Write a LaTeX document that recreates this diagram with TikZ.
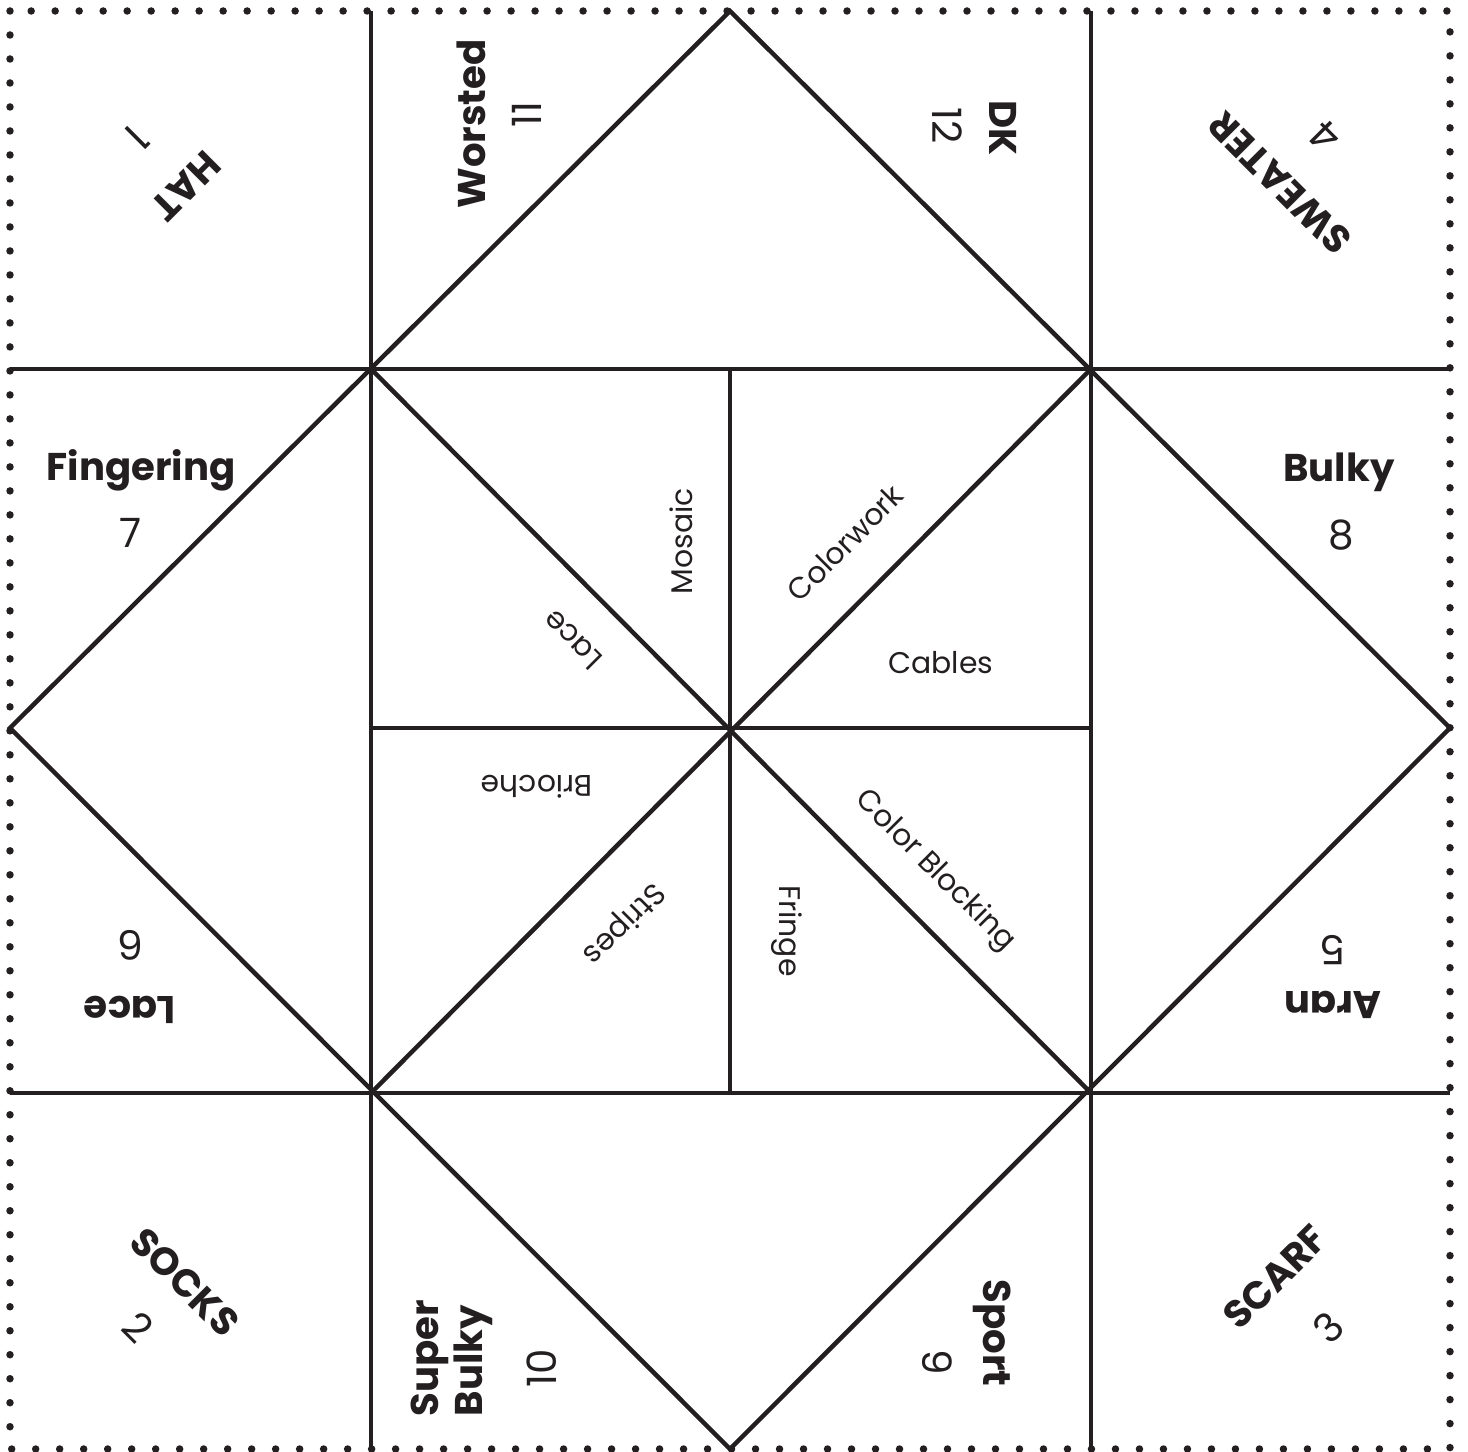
\documentclass[tikz,border=0pt]{standalone}
\usepackage{fontspec}
\setmainfont{Poppins}
\usepackage{xcolor}
\usepackage{tikz}
\usetikzlibrary{calc}
\definecolor{inkdark}{RGB}{35,31,32}
\tikzset{
  foldline/.style={line width=0.09cm, color=inkdark},
  dotborder/.style={line width=0.15cm, color=inkdark, line cap=round,
    dash pattern=on 0pt off 0.48cm},
  yarnlabel/.style={font=\fontsize{22}{25}\selectfont\bfseries, color=inkdark,
    inner sep=0pt, align=left},
  numlabel/.style={font=\fontsize{23}{26}\selectfont, color=inkdark, inner sep=0pt},
  stitchlabel/.style={font=\fontsize{17}{20}\selectfont, color=inkdark, inner sep=0pt}
}

\begin{document}
\begin{tikzpicture}[x=0.02cm, y=-0.02cm]
  \useasboundingbox (0,0) rectangle (1468,1452);
  % corners and fold points
  \coordinate (tl) at (10,11);
  \coordinate (br) at (1450,1449);
  \coordinate (top) at (730,11);
  \coordinate (bot) at (730,1449);
  \coordinate (lft) at (10,728);
  \coordinate (rgt) at (1450,728);
  \coordinate (ia) at (371,369);
  \coordinate (ib) at (1091,369);
  \coordinate (ic) at (1091,1093);
  \coordinate (id) at (371,1093);
  \coordinate (mid) at (730,728);

  % dotted cut border
  \draw[dotborder] (tl) rectangle (br);

  % fold grid
  \draw[foldline] (371,11) -- (371,1449);
  \draw[foldline] (1091,11) -- (1091,1449);
  \draw[foldline] (10,369) -- (1450,369);
  \draw[foldline] (10,1093) -- (1450,1093);
  \draw[foldline] (730,369) -- (730,1093);
  \draw[foldline] (371,728) -- (1091,728);
  % diamond and cross
  \draw[foldline, line join=miter] (top) -- (rgt) -- (bot) -- (lft) -- cycle;
  \draw[foldline] (ia) -- (ic);
  \draw[foldline] (ib) -- (id);

  % corner flaps
  \node[yarnlabel, rotate=225] (hat) at (186,186) {HAT};
  \node[numlabel, rotate=225] (n1) at (137,137) {1};
  \node[yarnlabel, rotate=135] (sweater) at (1280,183) {SWEATER};
  \node[numlabel, rotate=135] (n4) at (1325,137) {4};
  \node[yarnlabel, rotate=-45] (socks) at (185,1282) {SOCKS};
  \node[numlabel, rotate=-45] (n2) at (138,1327) {2};
  \node[yarnlabel, rotate=45] (scarf) at (1275,1277) {SCARF};
  \node[numlabel, rotate=45] (n3) at (1328,1328) {3};

  % yarn weights
  \node[yarnlabel, rotate=90] (worsted) at (471,124) {Worsted};
  \node[numlabel, rotate=90] (n11) at (527,115) {11};
  \node[yarnlabel, rotate=-90] (dk) at (1003,128) {DK};
  \node[numlabel, rotate=-90] (n12) at (947,126) {12};
  \node[yarnlabel, rotate=90] (superbulky) at (452,1358) {Super\\Bulky};
  \node[numlabel, rotate=90] (n10) at (542,1368) {10};
  \node[yarnlabel, rotate=-90] (sport) at (992,1333) {Sport};
  \node[numlabel, rotate=-90] (n9) at (937,1362) {9};
  \node[yarnlabel] (fingering) at (141,470) {Fingering};
  \node[numlabel] (n7) at (131,533) {7};
  \node[yarnlabel] (bulky) at (1339,472) {Bulky};
  \node[numlabel] (n8) at (1341,535) {8};
  \node[yarnlabel, rotate=180] (lace) at (130,1010) {Lace};
  \node[numlabel, rotate=180] (n6) at (131,945) {6};
  \node[yarnlabel, rotate=180] (aran) at (1333,1005) {Aran};
  \node[numlabel, rotate=180] (n5) at (1333,950) {5};

  % inner stitch flaps
  \node[stitchlabel, rotate=90] (mosaic) at (681,541) {Mosaic};
  \node[stitchlabel, rotate=45] (colorwork) at (845,543) {Colorwork};
  \node[stitchlabel] (cables) at (941,663) {Cables};
  \node[stitchlabel, rotate=135] (lacein) at (573,640) {Lace};
  \node[stitchlabel, rotate=180] (brioche) at (537,787) {Brioche};
  \node[stitchlabel, rotate=225] (stripes) at (623,923) {Stripes};
  \node[stitchlabel, rotate=-90] (fringe) at (787,931) {Fringe};
  \node[stitchlabel, rotate=-45] (colorblock) at (935,871) {Color Blocking};
\end{tikzpicture}
\end{document}
